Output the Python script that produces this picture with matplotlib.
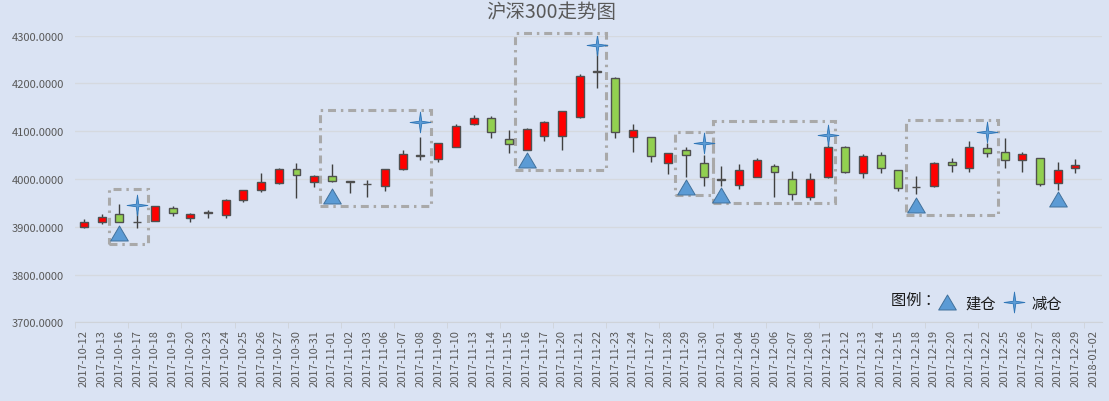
import numpy as np
import matplotlib
matplotlib.use("Agg")
import matplotlib.pyplot as plt
from matplotlib.path import Path
from matplotlib.lines import Line2D
from matplotlib.patches import Rectangle
from matplotlib.ticker import FormatStrFormatter

plt.rcParams['font.family'] = ['Noto Sans CJK SC', 'DejaVu Sans']

dates = ['2017-10-12', '2017-10-13', '2017-10-16', '2017-10-17', '2017-10-18',
         '2017-10-19', '2017-10-20', '2017-10-23', '2017-10-24', '2017-10-25',
         '2017-10-26', '2017-10-27', '2017-10-30', '2017-10-31', '2017-11-01',
         '2017-11-02', '2017-11-03', '2017-11-06', '2017-11-07', '2017-11-08',
         '2017-11-09', '2017-11-10', '2017-11-13', '2017-11-14', '2017-11-15',
         '2017-11-16', '2017-11-17', '2017-11-20', '2017-11-21', '2017-11-22',
         '2017-11-23', '2017-11-24', '2017-11-27', '2017-11-28', '2017-11-29',
         '2017-11-30', '2017-12-01', '2017-12-04', '2017-12-05', '2017-12-06',
         '2017-12-07', '2017-12-08', '2017-12-11', '2017-12-12', '2017-12-13',
         '2017-12-14', '2017-12-15', '2017-12-18', '2017-12-19', '2017-12-20',
         '2017-12-21', '2017-12-22', '2017-12-25', '2017-12-26', '2017-12-27',
         '2017-12-28', '2017-12-29', '2018-01-02']

opens = [3900, 3911, 3926, 3911, 3913, 3939, 3918, 3929, 3924, 3957,
         3978, 3991, 4020, 3993, 4006, 3995, 3990, 3986, 4020, 4050,
         4041, 4068, 4115, 4127, 4083, 4061, 4091, 4091, 4129, 4226,
         4211, 4087, 4087, 4033, 4060, 4033, 4001, 3987, 4005, 4027,
         4001, 3962, 4005, 4066, 4012, 4050, 4018, 3984, 3985, 4035,
         4022, 4064, 4056, 4039, 4043, 3991, 4023, None]
highs = [3916, 3927, 3947, 3930, 3944, 3944, 3929, 3935, 3958, 3977,
         4013, 4023, 4034, 4008, 4031, 3996, 3998, 4021, 4061, 4087,
         4076, 4115, 4135, 4131, 4102, 4107, 4121, 4143, 4219, 4265,
         4213, 4115, 4088, 4055, 4068, 4050, 4027, 4031, 4045, 4031,
         4016, 4012, 4075, 4069, 4052, 4056, 4019, 4006, 4036, 4043,
         4079, 4076, 4085, 4056, 4044, 4035, 4041, None]
lows = [3897, 3906, 3911, 3898, 3913, 3922, 3909, 3919, 3919, 3952,
        3972, 3990, 3960, 3983, 3994, 3970, 3962, 3974, 4019, 4039,
        4036, 4066, 4114, 4085, 4054, 4060, 4079, 4060, 4128, 4190,
        4085, 4056, 4035, 4010, 4004, 3986, 3985, 3980, 4004, 3963,
        3956, 3955, 4003, 4013, 4003, 4012, 3975, 3968, 3984, 4014,
        4014, 4047, 4024, 4014, 3985, 3978, 4012, None]
closes = [3911, 3920, 3911, 3910, 3943, 3929, 3926, 3930, 3957, 3976,
          3993, 4020, 4008, 4006, 3995, 3993, 3989, 4020, 4052, 4048,
          4075, 4110, 4127, 4098, 4073, 4104, 4119, 4142, 4215, 4224,
          4099, 4102, 4048, 4054, 4051, 4005, 3997, 4018, 4039, 4014,
          3969, 4001, 4068, 4014, 4048, 4024, 3981, 3983, 4033, 4029,
          4066, 4054, 4039, 4052, 3989, 4018, 4029, None]

# 建仓 / 减仓 signals (category index, marker level)
buy_idx = [2, 14, 25, 34, 36, 47, 55]
buy_level = [3887, 3964, 4040, 3983, 3966, 3946, 3958]
sell_idx = [3, 19, 29, 35, 42, 51]
sell_level = [3945, 4119, 4281, 4075, 4092, 4098]

# highlighted ranges: start/end category position, low/high level
box_start = [1.41, 13.35, 24.35, 33.4, 35.55, 46.4]
box_end = [3.62, 19.6, 29.5, 35.5, 42.4, 51.65]
box_low = [3864, 3944, 4019.5, 3967, 3950, 3925]
box_high = [3979, 4144.5, 4305.6, 4099, 4121.4, 4124]

BG = '#DAE3F3'
RED = '#FF0000'
GREEN = '#92D050'
BLUE = '#5B9BD5'


def to_arr(vals):
    return np.array([np.nan if v is None else v for v in vals], dtype=float)


def star_path(inner=0.17):
    pts = []
    for k in range(8):
        ang = np.pi / 2 + k * np.pi / 4
        r = 1.0 if k % 2 == 0 else inner
        pts.append((r * np.cos(ang), r * np.sin(ang)))
    pts.append(pts[0])
    codes = [Path.MOVETO] + [Path.LINETO] * 7 + [Path.CLOSEPOLY]
    return Path(pts, codes)


tri_path = Path([(0, 0.85), (-1, -0.85), (1, -0.85), (0, 0.85)],
                [Path.MOVETO, Path.LINETO, Path.LINETO, Path.CLOSEPOLY])
star = star_path()

o, h, l, c = to_arr(opens), to_arr(highs), to_arr(lows), to_arr(closes)
x = np.arange(len(dates))
ok = ~np.isnan(o)

fig = plt.figure(figsize=(11.09, 4.02), dpi=100, facecolor=BG)
ax = fig.add_axes([0.0678, 0.1958, 0.9259, 0.7129], facecolor=BG)

ax.vlines(x[ok], l[ok], h[ok], color='#404040', lw=1, zorder=2)
body_colors = [RED if cc > oo else GREEN for oo, cc in zip(o[ok], c[ok])]
ax.bar(x[ok], c[ok] - o[ok], bottom=o[ok], width=0.45, color=body_colors,
       edgecolor='#505050', linewidth=1, zorder=3)

for x0, x1, lo, hi in zip(box_start, box_end, box_low, box_high):
    ax.add_patch(Rectangle((x0, lo), x1 - x0, hi - lo, fill=False,
                           ec='#A9A9A9', lw=2.2, ls=(0, (2.6, 1.6, 0.8, 1.6)),
                           clip_on=False, zorder=1))

ax.plot(buy_idx, buy_level, ls='none', marker=tri_path, ms=12.7,
        mfc=BLUE, mec='#41719C', mew=0.7, zorder=5)
ax.plot(sell_idx, sell_level, ls='none', marker=star, ms=15,
        mfc=BLUE, mec='#2E75B6', mew=0.6, zorder=5)

ax.set_xlim(-0.5, len(dates) - 0.5)
ax.set_ylim(3700, 4300)
ax.set_yticks(np.arange(3700, 4301, 100))
ax.yaxis.set_major_formatter(FormatStrFormatter('%.4f'))
ax.yaxis.grid(True, color='#D5D9DF', lw=1)
ax.set_axisbelow(True)
for side in ['top', 'left', 'right']:
    ax.spines[side].set_visible(False)
ax.spines['bottom'].set_color('#CFD3D9')
ax.tick_params(axis='y', length=0, labelsize=8, colors='#595959', pad=8)

ax.set_xticks(x)
ax.set_xticklabels(dates, rotation=90, fontsize=8, color='#595959')
ax.set_xticks(np.arange(-0.5, len(dates), 3), minor=True)
ax.tick_params(axis='x', which='major', length=0, pad=5)
ax.tick_params(axis='x', which='minor', length=4, color='#CFD3D9')

fig.text(0.497, 0.968, '沪深300走势图', ha='center', va='center',
         fontsize=14, color='#595959')

fig.text(891 / 1109, 1 - 300 / 402, '图例 ：', ha='left', va='center',
         fontsize=11, color='#1a1a1a')
handles = [Line2D([], [], ls='none', marker=tri_path, ms=12.7, mfc=BLUE,
                  mec='#41719C', mew=0.7),
           Line2D([], [], ls='none', marker=star, ms=15, mfc=BLUE,
                  mec='#2E75B6', mew=0.6)]
fig.legend(handles, ['建仓', '减仓'], loc='center left',
           bbox_to_anchor=(935 / 1109, 1 - 304 / 402), frameon=False, ncol=2,
           fontsize=11, handletextpad=0.4, columnspacing=0.35,
           handlelength=1.6, borderpad=0, borderaxespad=0,
           labelcolor='#1a1a1a')

fig.savefig('out.png', dpi=100, facecolor=BG)
